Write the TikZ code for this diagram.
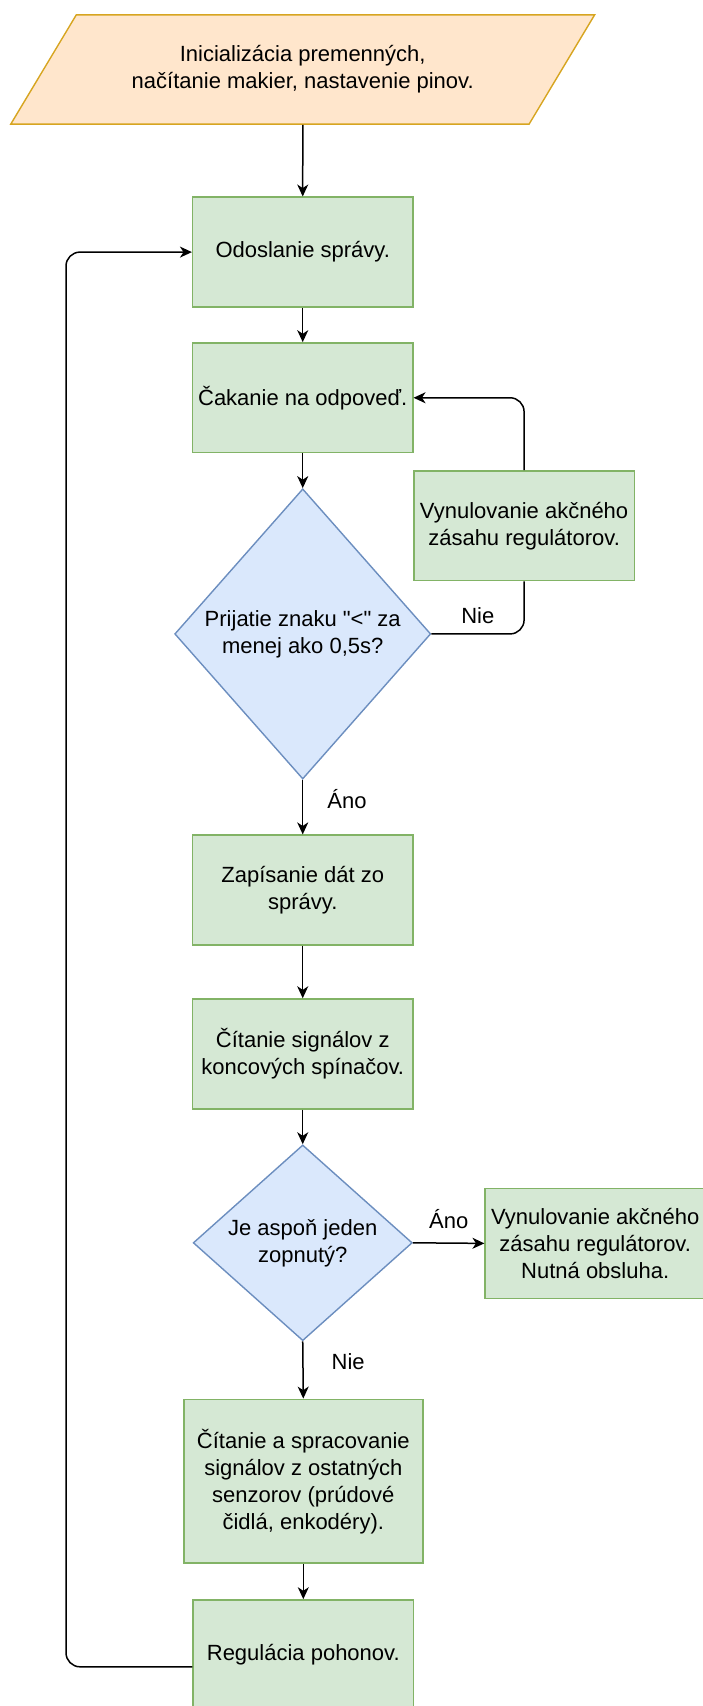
\documentclass[tikz,border=0pt]{standalone}
\usepackage{fontspec}
\setmainfont{Liberation Sans}
\usepackage{xcolor}
\usetikzlibrary{arrows.meta,shapes.geometric}
\definecolor{boxfill}{HTML}{D5E8D4}
\definecolor{boxline}{HTML}{82B366}
\definecolor{decfill}{HTML}{DAE8FC}
\definecolor{decline}{HTML}{6C8EBF}
\definecolor{iofill}{HTML}{FFE6CC}
\definecolor{ioline}{HTML}{D7A520}

\begin{document}
\begin{tikzpicture}[
  every node/.style={font=\fontsize{11}{13.5}\selectfont},
  proc/.style={draw=boxline,fill=boxfill,line width=0.7pt,align=center,
    minimum width=3.87cm,minimum height=1.93cm,inner sep=2pt},
  dec/.style={diamond,draw=decline,fill=decfill,line width=0.7pt,align=center,inner sep=0pt},
  io/.style={trapezium,trapezium left angle=43,trapezium right angle=137,
    trapezium stretches body,draw=ioline,fill=iofill,line width=0.7pt,align=center,
    minimum width=10.26cm,minimum height=1.92cm},
  ln/.style={line width=0.75pt,-{Stealth[length=6pt,width=5.5pt,inset=1.8pt]}},
  lbl/.style={inner sep=2pt}]
 \useasboundingbox (0,0) rectangle (12.35,-29.98);
 \node[io] (init) at (5.32,-1.22) {Inicializácia premenných,\\načítanie makier, nastavenie pinov.};
 \node[proc] (send) at (5.32,-4.43) {Odoslanie správy.};
 \node[proc] (wait) at (5.32,-6.99) {Čakanie na odpoveď.};
 \node[dec,aspect=0.88,minimum width=4.50cm,minimum height=5.10cm] (ans) at (5.32,-11.14) {Prijatie znaku \textquotedbl<\textquotedbl{} za\\menej ako 0,5s?};
 \node[proc] (rst) at (9.21,-9.24) {Vynulovanie akčného\\zásahu regulátorov.};
 \node[proc] (store) at (5.32,-15.64) {Zapísanie dát zo\\správy.};
 \node[proc] (lim) at (5.32,-18.52) {Čítanie signálov z\\koncových spínačov.};
 \node[dec,aspect=1.12,minimum width=3.85cm,minimum height=3.44cm] (hit) at (5.32,-21.84) {Je aspoň jeden\\zopnutý?};
 \node[proc] (stop) at (10.46,-21.85) {Vynulovanie akčného\\zásahu regulátorov.\\Nutná obsluha.};
 \node[proc,minimum width=4.20cm,minimum height=2.88cm] (sens) at (5.33,-26.03) {Čítanie a spracovanie\\signálov z ostatných\\senzorov (prúdové\\čidlá, enkodéry).};
 \node[proc] (drv) at (5.33,-29.08) {Regulácia pohonov.};
 \coordinate (loop) at (1.16,0);
 \foreach \a/\b in {init/send,send/wait,wait/ans,store/lim,lim/hit,sens/drv}
   \draw[ln] (\a.south)--(\b.north);
 \draw[ln] (ans.south) -- node[lbl,right,pos=0.35,xshift=10pt] {Áno} (store.north);
 \draw[ln] (hit.south) -- node[lbl,right,pos=0.36,xshift=12pt] {Nie} (sens.north);
 \draw[ln] (hit.east) -- node[lbl,above,yshift=5pt] {Áno} (stop.west);
 \draw[line width=0.75pt,rounded corners=7pt] (ans.east) -| node[lbl,above,pos=0.25,yshift=2.5pt] {Nie} (rst.south);
 \draw[ln,rounded corners=7pt] (rst.north) |- (wait.east);
 \draw[ln,rounded corners=7pt] ([yshift=-6pt]drv.west) -| (loop |- send.west) -- (send.west);
\end{tikzpicture}
\end{document}
